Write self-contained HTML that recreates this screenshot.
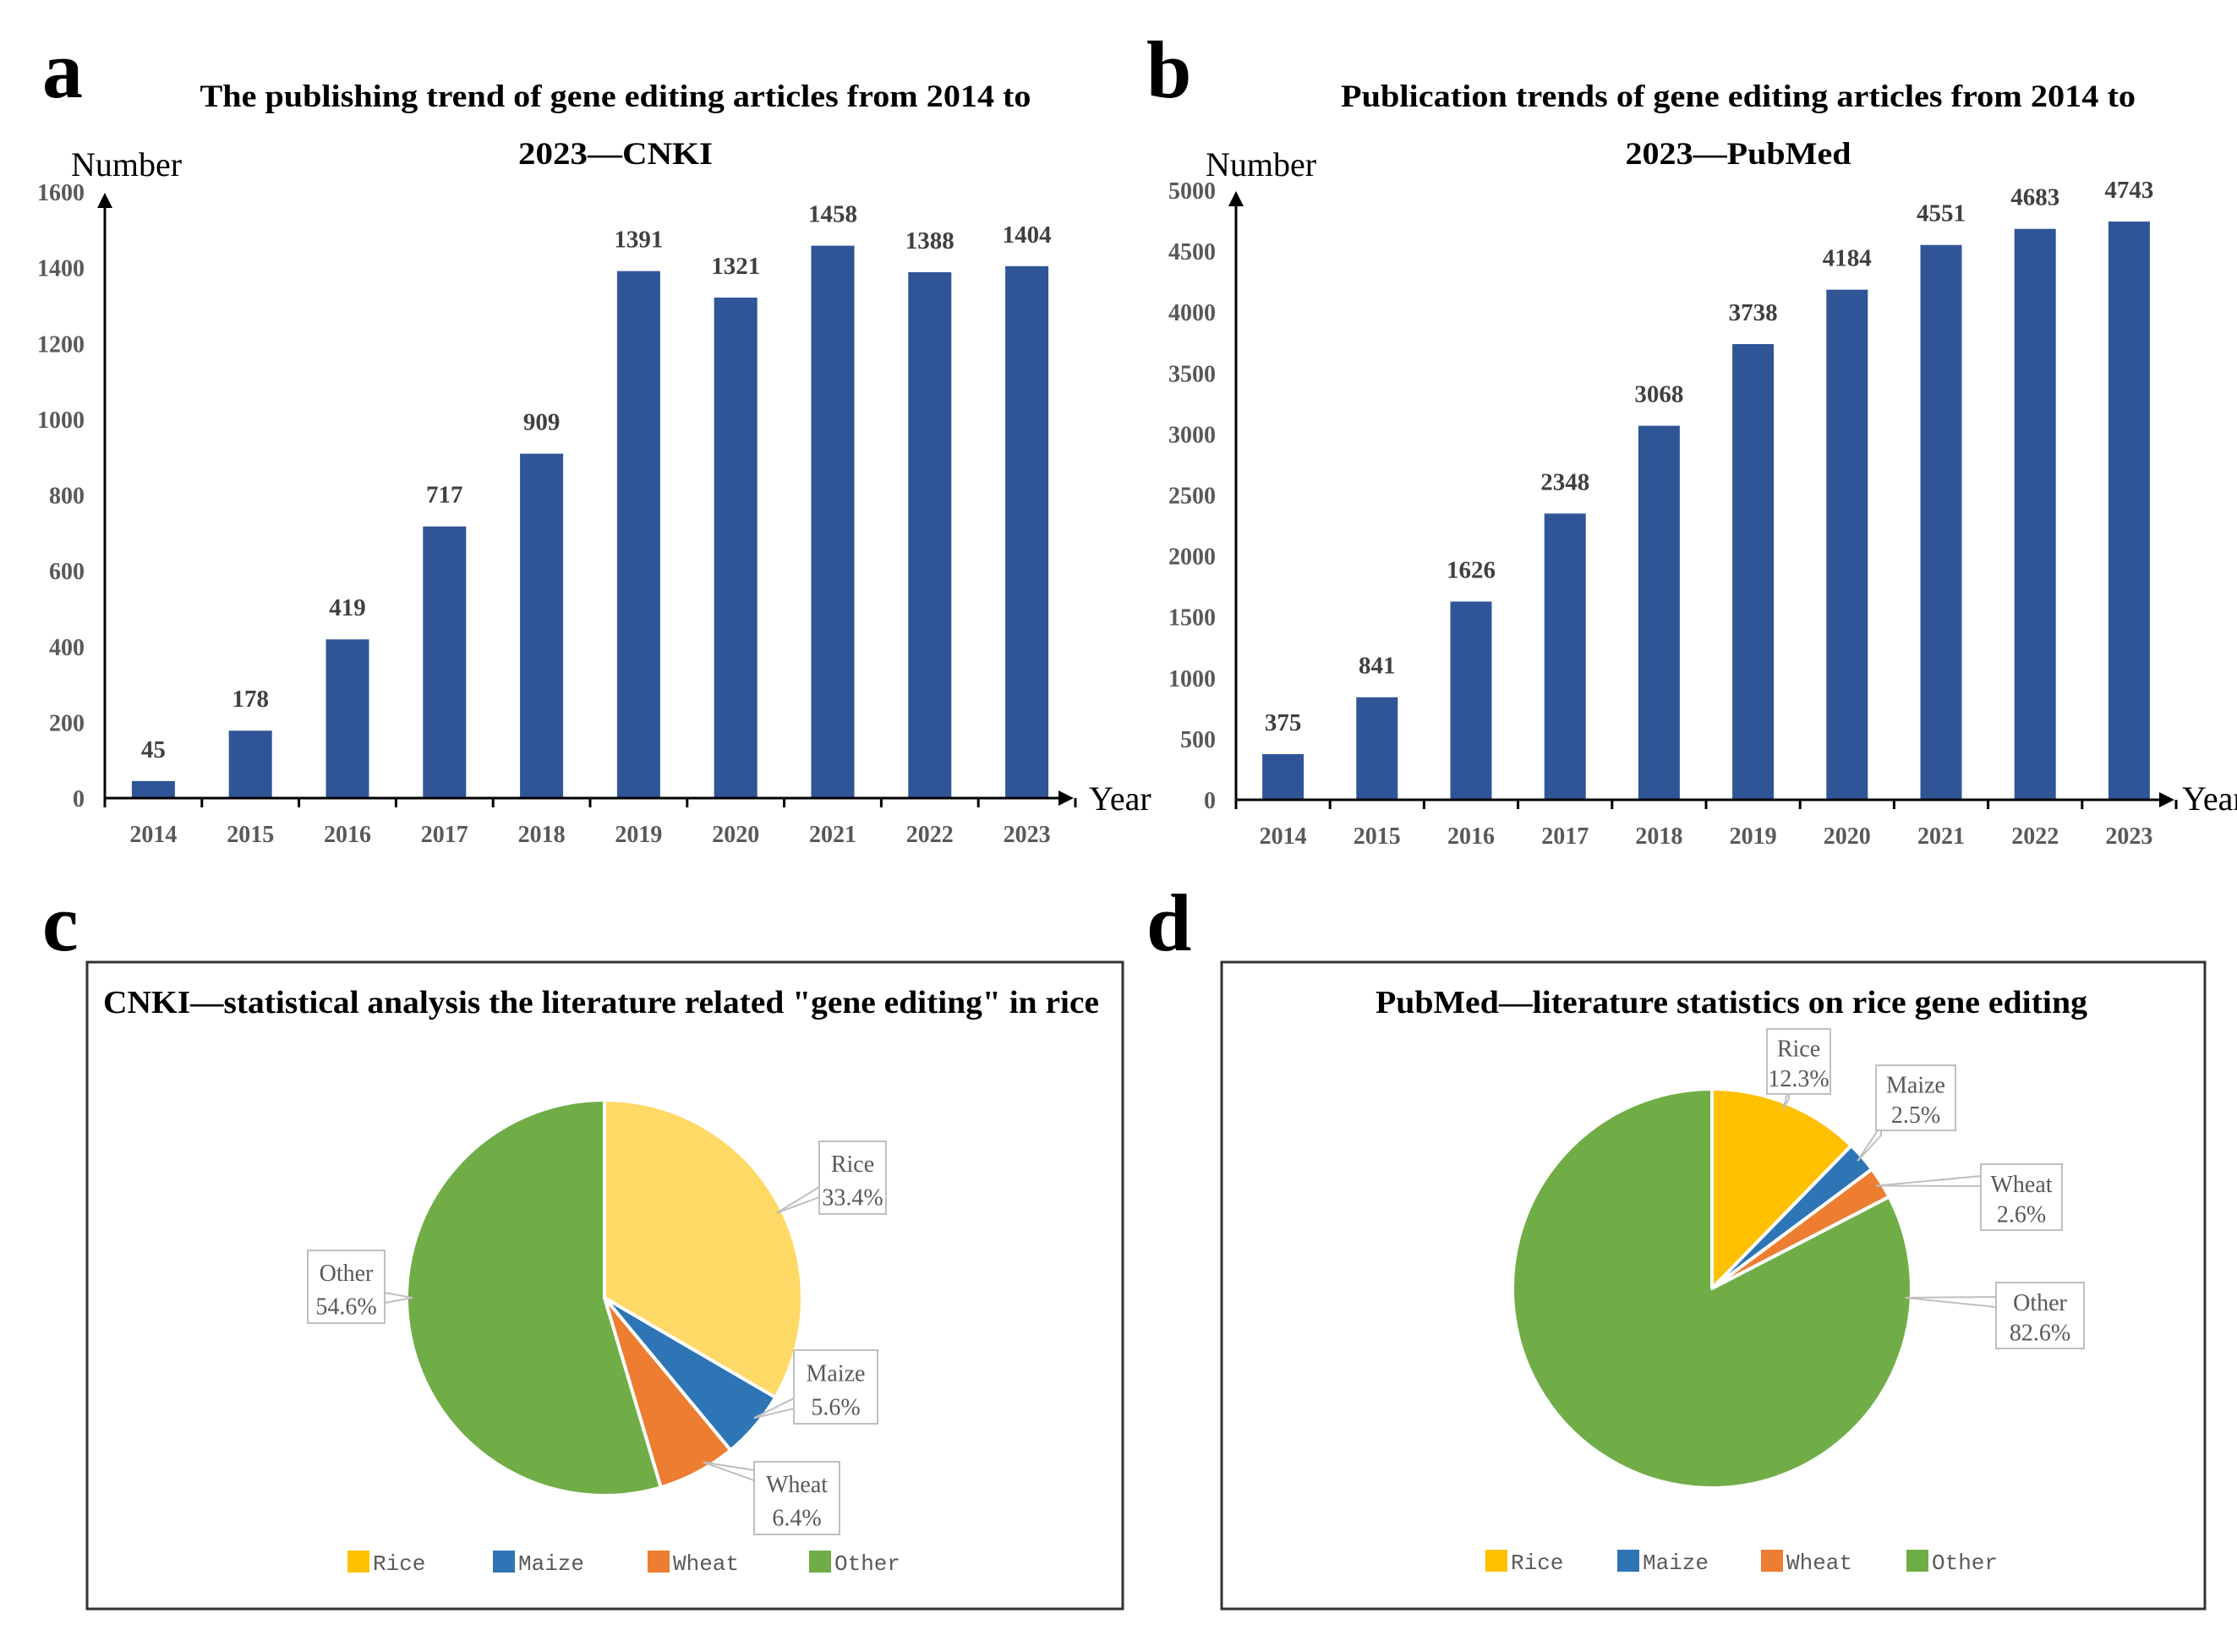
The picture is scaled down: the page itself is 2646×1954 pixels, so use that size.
<!DOCTYPE html>
<html><head><meta charset="utf-8">
<style>
html,body{margin:0;padding:0;background:#fff;}
svg{display:block;}
</style></head>
<body>
<svg id="fig" width="2646" height="1954" viewBox="0 0 2646 1954" xmlns="http://www.w3.org/2000/svg" font-family="'Liberation Serif', serif">
<rect width="2646" height="1954" fill="#fff"/>
<text x="50" y="115" font-size="96" font-weight="bold">a</text>
<text x="1356" y="115" font-size="96" font-weight="bold">b</text>
<text x="50" y="1124" font-size="96" font-weight="bold">c</text>
<text x="1356" y="1124" font-size="96" font-weight="bold">d</text>

<g font-size="37" font-weight="bold" text-anchor="middle" fill="#000">
<text x="728" y="126" textLength="983" lengthAdjust="spacingAndGlyphs">The publishing trend of gene editing articles from 2014 to</text>
<text x="728" y="194" textLength="230" lengthAdjust="spacingAndGlyphs">2023—CNKI</text>
<text x="2056" y="126" textLength="940" lengthAdjust="spacingAndGlyphs">Publication trends of gene editing articles from 2014 to</text>
<text x="2056" y="194" textLength="267" lengthAdjust="spacingAndGlyphs">2023—PubMed</text>
</g>
<g font-size="40" fill="#000">
<text x="84" y="208">Number</text>
<text x="1288" y="958">Year</text>
<text x="1426" y="208">Number</text>
<text x="2581" y="958">Year</text>
</g>

<g id="chartA"></g>
<g id="chartB"></g>

<rect x="103" y="1138" width="1225" height="765" fill="none" stroke="#333" stroke-width="3"/>
<rect x="1445" y="1138" width="1163" height="765" fill="none" stroke="#333" stroke-width="3"/>
<text x="711" y="1198" font-size="38" font-weight="bold" text-anchor="middle" textLength="1178" lengthAdjust="spacingAndGlyphs">CNKI—statistical analysis the literature related "gene editing" in rice</text>
<text x="2048" y="1198" font-size="38" font-weight="bold" text-anchor="middle" textLength="842" lengthAdjust="spacingAndGlyphs">PubMed—literature statistics on rice gene editing</text>
<g id="chartC"></g>
<g id="chartD"></g>
</svg>

<script>
const years = ["2014","2015","2016","2017","2018","2019","2020","2021","2022","2023"];
const cnkiValues = [45,178,419,717,909,1391,1321,1458,1388,1404];
const pubmedValues = [375,841,1626,2348,3068,3738,4184,4551,4683,4743];
const cnkiTicks = [0,200,400,600,800,1000,1200,1400,1600];
const pubmedTicks = [0,500,1000,1500,2000,2500,3000,3500,4000,4500,5000];
const pieCategories = ["Rice","Maize","Wheat","Other"];
const cnkiShares = [33.4,5.6,6.4,54.6];
const pubmedShares = [12.3,2.5,2.6,82.6];

const NS = "http://www.w3.org/2000/svg";
function mk(tag, attrs, parent){
  const e = document.createElementNS(NS, tag);
  for (const k in attrs) e.setAttribute(k, attrs[k]);
  parent.appendChild(e);
  return e;
}

function barChart(g, cats, vals, ticks, cfg, prefix){
  const maxV = ticks[ticks.length-1];
  const y = v => cfg.y0 - v/maxV*(cfg.y0-cfg.yTop);
  const band = cfg.band;
  const x = i => cfg.x0 + band*i + band/2;
  ticks.forEach(t=>{
    const tx = mk("text",{x:cfg.x0-24,y:y(t)+10,"font-size":28,"font-weight":"bold","text-anchor":"end",fill:"#595959"},g);
    
    
    tx.textContent = t;
  });
  vals.forEach((v,i)=>{
    const r = mk("rect",{x:x(i)-cfg.bw/2,y:y(v),width:cfg.bw,height:cfg.y0-y(v),fill:"#2F5597"},g);
    
    
    const lt = mk("text",{x:x(i),y:y(v)-28,"font-size":29,"font-weight":"bold","text-anchor":"middle",fill:"#404040"},g);
    
    
    lt.textContent = v;
    const xt = mk("text",{x:x(i),y:cfg.y0+52,"font-size":28,"font-weight":"bold","text-anchor":"middle",fill:"#595959"},g);
    
    
    xt.textContent = cats[i];
  });
  for (let i=0;i<=cats.length;i++){
    const tk = mk("line",{x1:cfg.x0+band*i,x2:cfg.x0+band*i,y1:cfg.y0,y2:cfg.y0+11,stroke:"#000","stroke-width":3},g);
    
    
  }
  const xa = mk("line",{x1:cfg.x0,x2:cfg.xEnd-10,y1:cfg.y0,y2:cfg.y0,stroke:"#000","stroke-width":3},g);
  
  
  const xh = mk("polygon",{points:`${cfg.xEnd},${cfg.y0} ${cfg.xEnd-18},${cfg.y0-9} ${cfg.xEnd-18},${cfg.y0+9}`,fill:"#000"},g);
  
  
  const ya = mk("line",{x1:cfg.x0,x2:cfg.x0,y1:cfg.y0+2,y2:cfg.yArrow+10,stroke:"#000","stroke-width":3},g);
  
  
  const yh = mk("polygon",{points:`${cfg.x0},${cfg.yArrow} ${cfg.x0-9},${cfg.yArrow+18} ${cfg.x0+9},${cfg.yArrow+18}`,fill:"#000"},g);
  
  
}

barChart(document.getElementById("chartA"), years, cnkiValues, cnkiTicks,
  {x0:124,y0:944,yTop:227,band:114.8,bw:51,xEnd:1270,yArrow:228}, "chart-a");
barChart(document.getElementById("chartB"), years, pubmedValues, pubmedTicks,
  {x0:1462,y0:946,yTop:225,band:111.2,bw:49,xEnd:2572,yArrow:226}, "chart-b");

const pieColorsC = ["#FFD966","#2E75B6","#ED7D31","#70AD47"];
const pieColorsD = ["#FFC000","#2E75B6","#ED7D31","#70AD47"];
const legendColors = ["#FFC000","#2E75B6","#ED7D31","#70AD47"];

function pie(g, cats, shares, colors, cfg, prefix){
  const total = shares.reduce((a,b)=>a+b,0);
  let a0 = -Math.PI/2;
  const norm = a => { while (a < -Math.PI/2) a += 2*Math.PI; while (a >= 1.5*Math.PI) a -= 2*Math.PI; return a; };
  shares.forEach((s,i)=>{
    const a1 = a0 + s/total*2*Math.PI;
    const large = (a1-a0) > Math.PI ? 1 : 0;
    const x0 = cfg.cx + cfg.r*Math.cos(a0), y0 = cfg.cy + cfg.r*Math.sin(a0);
    const x1 = cfg.cx + cfg.r*Math.cos(a1), y1 = cfg.cy + cfg.r*Math.sin(a1);
    const p = mk("path",{d:`M${cfg.cx},${cfg.cy} L${x0},${y0} A${cfg.r},${cfg.r} 0 ${large} 1 ${x1},${y1} Z`,fill:colors[i],stroke:"#fff","stroke-width":4,"stroke-linejoin":"round"},g);
    
    
    const b = cfg.boxes[i];
    // anchor on slice edge nearest the label box, clamped to the slice range
    let aim = norm(Math.atan2(b.ly-cfg.cy, b.lx-cfg.cx));
    const pad = Math.min(0.15, (a1-a0)/2);
    aim = Math.max(a0+pad, Math.min(a1-pad, aim));
    const ex = cfg.cx + cfg.r*0.97*Math.cos(aim), ey = cfg.cy + cfg.r*0.97*Math.sin(aim);
    const ln = mk("polygon",{points:`${ex},${ey} ${b.lx},${b.ly-6} ${b.lx},${b.ly+6}`,fill:"#fff",stroke:"#bfbfbf","stroke-width":2},g);
    
    
    const br = mk("rect",{x:b.x,y:b.y,width:b.w,height:b.h,fill:"#fff",stroke:"#bfbfbf","stroke-width":2},g);
    
    
    const t1 = mk("text",{x:b.x+b.w/2,y:b.y+b.h*0.42,"font-size":28,"text-anchor":"middle",fill:"#595959"},g);
    
    
    t1.textContent = cats[i];
    const t2 = mk("text",{x:b.x+b.w/2,y:b.y+b.h*0.88,"font-size":28,"text-anchor":"middle",fill:"#595959"},g);
    
    
    t2.textContent = s.toFixed(1)+"%";
    a0 = a1;
  });
  cats.forEach((c,i)=>{
    const lx = cfg.legendX[i];
    const sq = mk("rect",{x:lx,y:cfg.legendY-13,width:26,height:26,fill:legendColors[i]},g);
    
    
    const lt = mk("text",{x:lx+30,y:cfg.legendY+10,"font-size":26,"font-family":"'Liberation Mono', monospace",fill:"#595959"},g);
    
    
    lt.textContent = c;
  });
}

pie(document.getElementById("chartC"), pieCategories, cnkiShares, pieColorsC, {
  cx:715, cy:1535, r:234, legendY:1847, legendX:[411,583,766,957],
  boxes:[
    {x:969,y:1350,w:79,h:86,lx:969,ly:1410},
    {x:939,y:1597,w:99,h:87,lx:939,ly:1660},
    {x:892,y:1729,w:101,h:86,lx:892,ly:1745},
    {x:364,y:1479,w:91,h:86,lx:455,ly:1535}
  ]}, "chart-c");

pie(document.getElementById("chartD"), pieCategories, pubmedShares, pieColorsD, {
  cx:2025, cy:1524, r:236, legendY:1846, legendX:[1757,1913,2083,2255],
  boxes:[
    {x:2090,y:1217,w:75,h:77,lx:2116,ly:1294},
    {x:2219,y:1260,w:94,h:77,lx:2225,ly:1337},
    {x:2343,y:1377,w:96,h:78,lx:2343,ly:1397},
    {x:2361,y:1517,w:104,h:78,lx:2361,ly:1540}
  ]}, "chart-d");
</script>
</body></html>
